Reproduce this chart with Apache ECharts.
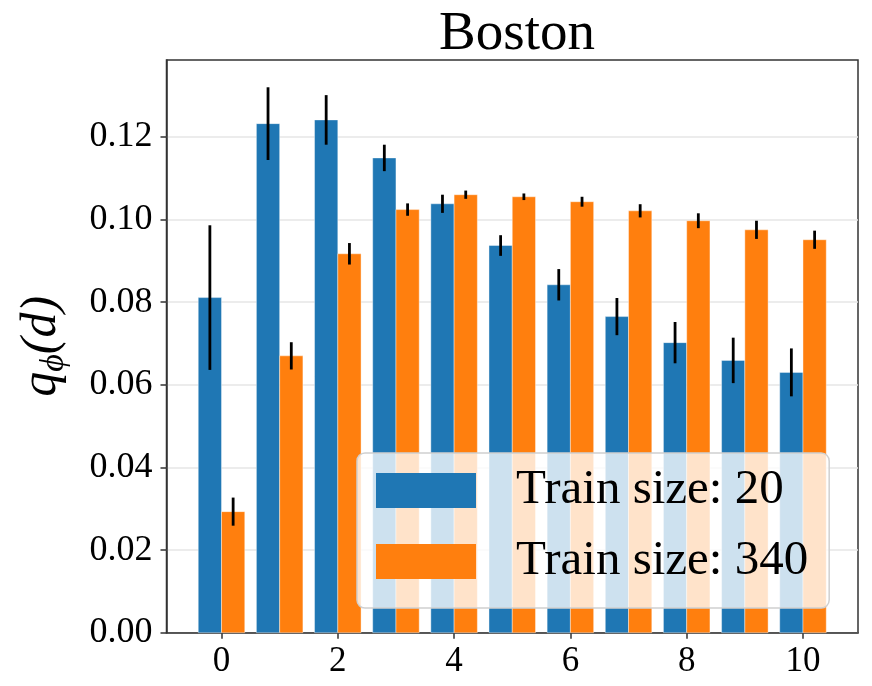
<!DOCTYPE html>
<html>
<head>
<meta charset="utf-8">
<script src="https://cdn.jsdelivr.net/npm/echarts@6/dist/echarts.min.js"></script>
<style>
  html, body { margin: 0; padding: 0; background: #fff; }
  #main { width: 872px; height: 686px; }
</style>
</head>
<body>
<div id="main"></div>
<script>
// 数据
var positions = [0, 1, 2, 3, 4, 5, 6, 7, 8, 9, 10];
var small = [0.0811, 0.1232, 0.1241, 0.1149, 0.1038, 0.0937, 0.0842, 0.0765, 0.0702, 0.0659, 0.0630];
var smallErr = [0.0175, 0.0088, 0.0060, 0.0032, 0.0022, 0.0025, 0.0038, 0.0045, 0.0050, 0.0055, 0.0058];
var large = [0.0293, 0.0670, 0.0917, 0.1024, 0.1060, 0.1055, 0.1043, 0.1021, 0.0997, 0.0975, 0.0951];
var largeErr = [0.0034, 0.0033, 0.0026, 0.0015, 0.0010, 0.0008, 0.0012, 0.0016, 0.0018, 0.0022, 0.0022];
var xTicks = [0, 2, 4, 6, 8, 10];
var yTicks = [0, 0.02, 0.04, 0.06, 0.08, 0.10, 0.12];
var names = ['Train size: 20', 'Train size: 340'];

var myChart = echarts.init(document.getElementById('main'));
var font = '"Liberation Serif", "Times New Roman", serif';
var colors = ['#1f77b4', '#ff7f0e'];

function barSeries(name, vals, errs, offset, color) {
  var d = positions.map(function (p, i) { return [p, vals[i], errs[i]]; });
  return {
    name: name,
    type: 'custom',
    itemStyle: { color: color },
    data: d,
    renderItem: function (params, api) {
      var x = api.value(0) + offset;
      var v = api.value(1);
      var e = api.value(2);
      var top = api.coord([x, v]);
      var base = api.coord([x, 0]);
      var w = api.size([0.4, 0])[0];
      var hi = api.coord([x, v + e]);
      var lo = api.coord([x, v - e]);
      return {
        type: 'group',
        children: [{
          type: 'rect',
          shape: { x: top[0] - w / 2, y: top[1], width: w, height: base[1] - top[1] },
          style: { fill: color, stroke: 'rgba(255,255,255,0.5)', lineWidth: 0.8 }
        }, {
          type: 'line',
          shape: { x1: hi[0], y1: hi[1], x2: lo[0], y2: lo[1] },
          style: { stroke: '#000', lineWidth: 2.8 }
        }]
      };
    }
  };
}

var option = {
  backgroundColor: '#fff',
  color: colors,
  animation: false,
  title: {
    text: 'Boston',
    left: 512,
    textAlign: 'center',
    top: 2,
    textStyle: { fontFamily: font, fontSize: 55, fontWeight: 'normal', color: '#000' }
  },
  grid: {
    left: 166.5, right: 14, top: 60, bottom: 53.3,
    show: true, borderColor: '#333', borderWidth: 1.5
  },
  xAxis: {
    type: 'value',
    min: -0.946,
    max: 10.946,
    axisLine: { onZero: false, lineStyle: { color: '#333', width: 1.5 } },
    axisTick: { show: true, customValues: xTicks, length: 6, lineStyle: { color: '#333', width: 1.5 } },
    axisLabel: { customValues: xTicks, margin: 12, color: '#000', fontFamily: font, fontSize: 35 },
    splitLine: { show: false }
  },
  yAxis: {
    type: 'value',
    min: 0,
    max: 0.1386,
    interval: 0.02,
    name: '{q|q}{s|ϕ}{p|(d)}',
    nameLocation: 'middle',
    nameRotate: 90,
    nameGap: 95,
    nameTextStyle: {
      rich: {
        q: { fontFamily: font, fontStyle: 'italic', fontSize: 50, lineHeight: 60, color: '#000', verticalAlign: 'middle' },
        s: { fontFamily: font, fontStyle: 'italic', fontSize: 34, lineHeight: 34, color: '#000', verticalAlign: 'bottom' },
        p: { fontFamily: font, fontStyle: 'italic', fontSize: 50, lineHeight: 60, color: '#000', verticalAlign: 'middle' }
      }
    },
    axisLine: { show: true, onZero: false, lineStyle: { color: '#333', width: 1.5 } },
    axisTick: { show: true, customValues: yTicks, length: 6, lineStyle: { color: '#333', width: 1.5 } },
    axisLabel: {
      customValues: yTicks, margin: 14, color: '#000', fontFamily: font, fontSize: 36,
      formatter: function (v) { return v.toFixed(2); }
    },
    splitLine: { show: true, lineStyle: { color: '#e6e6e6', width: 1.5 } }
  },
  legend: {
    orient: 'vertical',
    left: 357,
    top: 453,
    z: 10,
    data: [
      { name: names[0], icon: 'rect' },
      { name: names[1], icon: 'rect' }
    ],
    itemWidth: 100,
    itemHeight: 35,
    itemGap: 22,
    padding: [13, 21, 22, 19],
    backgroundColor: 'rgba(255,255,255,0.78)',
    borderColor: '#d0d0d0',
    borderWidth: 1.5,
    borderRadius: 8,
    textStyle: { fontFamily: font, fontSize: 49, lineHeight: 48, color: '#000', padding: [0, 0, 0, 35] }
  },
  series: [
    barSeries(names[0], small, smallErr, -0.2, colors[0]),
    barSeries(names[1], large, largeErr, 0.2, colors[1])
  ]
};

myChart.setOption(option);
</script>
</body>
</html>
